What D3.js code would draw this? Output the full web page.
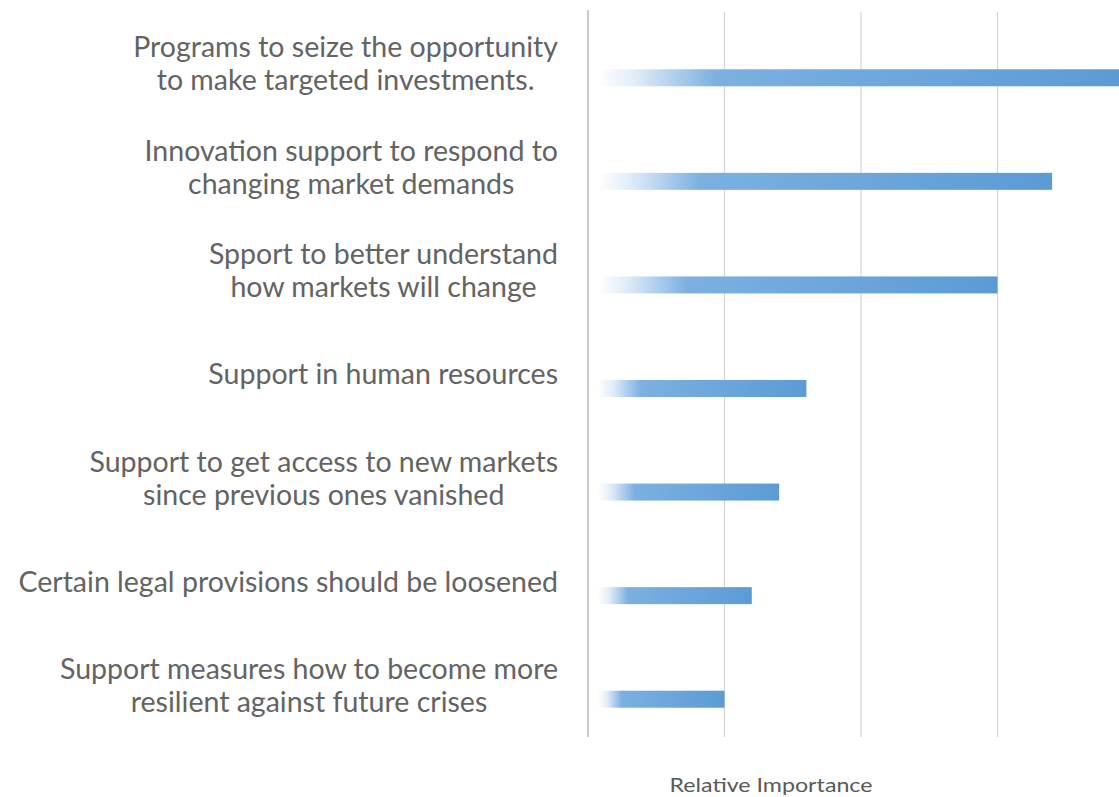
<!DOCTYPE html>
<html><head><meta charset="utf-8">
<script src="https://cdn.jsdelivr.net/npm/d3@7"></script>
<style>body{margin:0;background:#fff;}svg{display:block;}</style>
</head><body>
<svg id="chart" width="1119" height="797"></svg>
<script>
const categories = [
  ["Programs to seize the opportunity", "to make targeted investments."],
  ["Innovation support to respond to", "changing market demands"],
  ["Spport to better understand", "how markets will change"],
  ["Support in human resources"],
  ["Support to get access to new markets", "since previous ones vanished"],
  ["Certain legal provisions should be loosened"],
  ["Support measures how to become more", "resilient against future crises"]
];
const values = [3.9, 3.4, 3.0, 1.6, 1.4, 1.2, 1.0];
const xTicks = [0, 1, 2, 3];
const axisTitle = "Relative Importance";

(function () {
const svg = d3.select("#chart");
const plotTop = 12, plotBottom = 737;
const x = d3.scaleLinear().domain([0, 4]).range([588, 1134]);
const y = d3.scaleBand().domain(d3.range(categories.length)).range([plotTop, plotBottom]);

// gridlines
svg.append("g").selectAll("line").data(xTicks.slice(1)).join("line")
  .attr("x1", d => x(d)).attr("x2", d => x(d))
  .attr("y1", plotTop).attr("y2", plotBottom)
  .attr("stroke", "#d4d4d4").attr("stroke-width", 1.2);
svg.append("line").attr("x1", x(0)).attr("x2", x(0)).attr("y1", plotTop - 2).attr("y2", plotBottom)
  .attr("stroke", "#c4c4c4").attr("stroke-width", 1.8);

// gradients, one per bar
const defs = svg.append("defs");
values.forEach((v, i) => {
  const len = x(v) - x(0);
  const w = 9 / len;
  const g = defs.append("linearGradient").attr("id", "g" + i)
    .attr("x1", 0).attr("x2", 1).attr("y1", 0).attr("y2", 0);
  [[0, "#ffffff"], [w, "#ffffff"], [w + 0.07, "#e0ecf8"], [Math.max(0.24, w + 0.12), "#7cb0e1"], [1, "#5b9bd5"]]
    .forEach(s => g.append("stop").attr("offset", s[0]).attr("stop-color", s[1]));
});

const barH = 17, barOff = 14;
svg.append("g").selectAll("rect").data(values).join("rect")
  .attr("x", x(0) + 1)
  .attr("y", (d, i) => y(i) + y.bandwidth() / 2 + barOff - barH / 2)
  .attr("width", d => x(d) - x(0) - 1)
  .attr("height", barH)
  .attr("fill", (d, i) => `url(#g${i})`);

// labels
const font = "Lato, 'Open Sans', sans-serif";
const lab = svg.append("g").attr("font-family", font).attr("fill", "#636363");
const probe = lab.append("text").attr("font-size", 26).text(categories[5][0]);
const w26 = probe.node().getComputedTextLength();
probe.remove();
const fs = 26 * 540 / w26;
const lh = 33;
const rightEdge = 558;
categories.forEach((lines, i) => {
  const cy = y(i) + y.bandwidth() / 2;
  let maxW = 0;
  const tmp = lab.append("text").attr("font-size", fs);
  lines.forEach(l => { tmp.text(l); maxW = Math.max(maxW, tmp.node().getComputedTextLength()); });
  tmp.remove();
  const cx = rightEdge - maxW / 2;
  const t = lab.append("text").attr("font-size", fs).attr("text-anchor", "middle");
  lines.forEach((l, j) => {
    t.append("tspan").attr("x", cx)
      .attr("y", cy + (j - (lines.length - 1) / 2) * lh)
      .attr("dy", "0.35em").text(l);
  });
});

svg.append("text").attr("x", 771).attr("y", 792).attr("text-anchor", "middle")
  .attr("font-family", font).attr("font-size", 20).attr("fill", "#595959")
  .attr("textLength", 203).attr("lengthAdjust", "spacingAndGlyphs").text(axisTitle);
})();
</script>
</body></html>
